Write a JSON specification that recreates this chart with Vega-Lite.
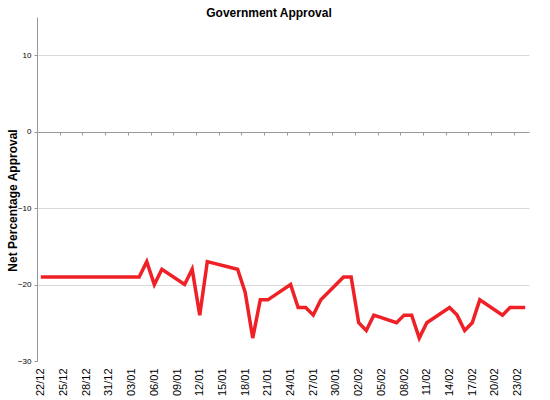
{
  "$schema": "https://vega.github.io/schema/vega-lite/v6.json",
  "width": 492,
  "height": 344,
  "autosize": "none",
  "padding": {"left": 37, "top": 17, "right": 21, "bottom": 39},
  "background": "white",
  "config": {
    "view": {"stroke": null},
    "font": "Liberation Sans"
  },
  "title": {
    "text": "Government Approval",
    "fontSize": 12,
    "fontWeight": "bold",
    "font": "Liberation Sans",
    "color": "black",
    "anchor": "middle",
    "dx": -14,
    "offset": -3
  },
  "data": {
    "values": [
      {"date": "2008/12/22", "approval": -19},
      {"date": "2009/01/04", "approval": -19},
      {"date": "2009/01/05", "approval": -17},
      {"date": "2009/01/06", "approval": -20},
      {"date": "2009/01/07", "approval": -18},
      {"date": "2009/01/10", "approval": -20},
      {"date": "2009/01/11", "approval": -18},
      {"date": "2009/01/12", "approval": -24},
      {"date": "2009/01/13", "approval": -17},
      {"date": "2009/01/17", "approval": -18},
      {"date": "2009/01/18", "approval": -21},
      {"date": "2009/01/19", "approval": -27},
      {"date": "2009/01/20", "approval": -22},
      {"date": "2009/01/21", "approval": -22},
      {"date": "2009/01/24", "approval": -20},
      {"date": "2009/01/25", "approval": -23},
      {"date": "2009/01/26", "approval": -23},
      {"date": "2009/01/27", "approval": -24},
      {"date": "2009/01/28", "approval": -22},
      {"date": "2009/01/31", "approval": -19},
      {"date": "2009/02/01", "approval": -19},
      {"date": "2009/02/02", "approval": -25},
      {"date": "2009/02/03", "approval": -26},
      {"date": "2009/02/04", "approval": -24},
      {"date": "2009/02/07", "approval": -25},
      {"date": "2009/02/08", "approval": -24},
      {"date": "2009/02/09", "approval": -24},
      {"date": "2009/02/10", "approval": -27},
      {"date": "2009/02/11", "approval": -25},
      {"date": "2009/02/14", "approval": -23},
      {"date": "2009/02/15", "approval": -24},
      {"date": "2009/02/16", "approval": -26},
      {"date": "2009/02/17", "approval": -25},
      {"date": "2009/02/18", "approval": -22},
      {"date": "2009/02/21", "approval": -24},
      {"date": "2009/02/22", "approval": -23},
      {"date": "2009/02/24", "approval": -23}
    ]
  },
  "resolve": {"axis": {"x": "independent"}},
  "layer": [
    {
      "mark": {"type": "line", "opacity": 0},
      "encoding": {
        "x": {
          "field": "date",
          "type": "temporal",
          "scale": {"domain": [{"year": 2008, "month": 12, "date": 21, "hours": 12}, {"year": 2009, "month": 2, "date": 24, "hours": 12}]},
          "axis": {
            "orient": "bottom",
            "offset": -229,
            "title": null,
            "labels": false,
            "grid": false,
            "domain": true,
            "domainColor": "#999999",
            "domainWidth": 1,
            "ticks": true,
            "tickColor": "#999999",
            "tickSize": 3,
            "values": [
              {"year": 2008, "month": 12, "date": 21, "hours": 12},
              {"year": 2008, "month": 12, "date": 24, "hours": 12},
              {"year": 2008, "month": 12, "date": 27, "hours": 12},
              {"year": 2008, "month": 12, "date": 30, "hours": 12},
              {"year": 2009, "month": 1, "date": 2, "hours": 12},
              {"year": 2009, "month": 1, "date": 5, "hours": 12},
              {"year": 2009, "month": 1, "date": 8, "hours": 12},
              {"year": 2009, "month": 1, "date": 11, "hours": 12},
              {"year": 2009, "month": 1, "date": 14, "hours": 12},
              {"year": 2009, "month": 1, "date": 17, "hours": 12},
              {"year": 2009, "month": 1, "date": 20, "hours": 12},
              {"year": 2009, "month": 1, "date": 23, "hours": 12},
              {"year": 2009, "month": 1, "date": 26, "hours": 12},
              {"year": 2009, "month": 1, "date": 29, "hours": 12},
              {"year": 2009, "month": 2, "date": 1, "hours": 12},
              {"year": 2009, "month": 2, "date": 4, "hours": 12},
              {"year": 2009, "month": 2, "date": 7, "hours": 12},
              {"year": 2009, "month": 2, "date": 10, "hours": 12},
              {"year": 2009, "month": 2, "date": 13, "hours": 12},
              {"year": 2009, "month": 2, "date": 16, "hours": 12},
              {"year": 2009, "month": 2, "date": 19, "hours": 12},
              {"year": 2009, "month": 2, "date": 22, "hours": 12}
            ]
          }
        },
        "y": {
          "field": "approval",
          "type": "quantitative",
          "scale": {"domain": [-30, 15], "nice": false, "zero": false},
          "axis": {
            "title": "Net Percentage Approval",
            "titleFontSize": 12,
            "titleFontWeight": "bold",
            "titleFont": "Liberation Sans",
            "titleColor": "black",
            "titleX": -25,
            "titleY": 183,
            "titleBaseline": "middle",
            "titleAngle": -90,
            "values": [-30, -20, -10, 0, 10],
            "labelFontSize": 8,
            "labelColor": "black",
            "labelFont": "Liberation Sans",
            "labelPadding": 3,
            "tickSize": 3,
            "tickColor": "#999999",
            "domainColor": "#999999",
            "labelFlush": false,
            "grid": true,
            "gridColor": {"condition": {"test": "datum.value === 0 || datum.value === -30", "value": "transparent"}, "value": "#d9d9d9"},
            "gridWidth": 1
          }
        }
      }
    },
    {
      "mark": {"type": "line", "color": "#ef2126", "strokeWidth": 3.5, "strokeJoin": "miter"},
      "encoding": {
        "x": {
          "field": "date",
          "type": "temporal",
          "axis": {
            "orient": "bottom",
            "title": null,
            "grid": false,
            "domain": false,
            "ticks": false,
            "tickSize": 0,
            "labelPadding": 7,
            "labelAngle": -90,
            "labelFontSize": 11,
            "labelColor": "black",
            "labelFont": "Liberation Sans",
            "format": "%d/%m",
            "labelOverlap": false,
            "labelFlush": false,
            "values": [
              {"year": 2008, "month": 12, "date": 22},
              {"year": 2008, "month": 12, "date": 25},
              {"year": 2008, "month": 12, "date": 28},
              {"year": 2008, "month": 12, "date": 31},
              {"year": 2009, "month": 1, "date": 3},
              {"year": 2009, "month": 1, "date": 6},
              {"year": 2009, "month": 1, "date": 9},
              {"year": 2009, "month": 1, "date": 12},
              {"year": 2009, "month": 1, "date": 15},
              {"year": 2009, "month": 1, "date": 18},
              {"year": 2009, "month": 1, "date": 21},
              {"year": 2009, "month": 1, "date": 24},
              {"year": 2009, "month": 1, "date": 27},
              {"year": 2009, "month": 1, "date": 30},
              {"year": 2009, "month": 2, "date": 2},
              {"year": 2009, "month": 2, "date": 5},
              {"year": 2009, "month": 2, "date": 8},
              {"year": 2009, "month": 2, "date": 11},
              {"year": 2009, "month": 2, "date": 14},
              {"year": 2009, "month": 2, "date": 17},
              {"year": 2009, "month": 2, "date": 20},
              {"year": 2009, "month": 2, "date": 23}
            ]
          }
        },
        "y": {
          "field": "approval",
          "type": "quantitative"
        }
      }
    }
  ]
}
